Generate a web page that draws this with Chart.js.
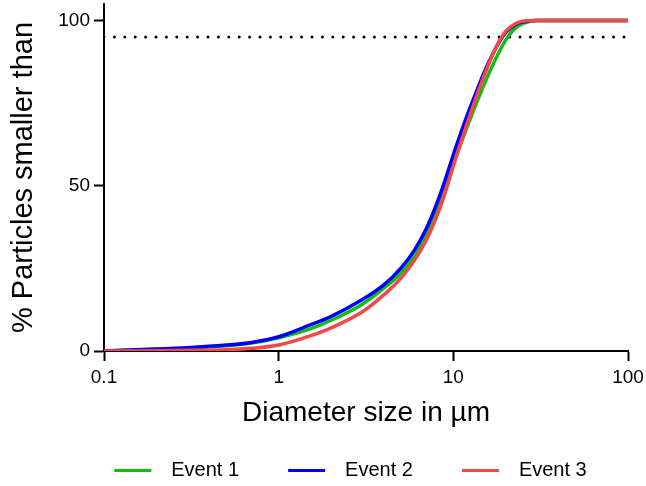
<!DOCTYPE html>
<html lang="en">
  <head>
    <meta charset="UTF-8" />
    <title>Particle size distribution</title>
    <script src="https://cdn.jsdelivr.net/npm/chart.js@4"></script>
    <style>
      html, body { margin: 0; padding: 0; background: #fff; }
      .chart-container { position: relative; width: 646px; height: 486px; }
    </style>
  </head>
  <body>
    <div class="chart-container">
      <canvas id="sizeChart"></canvas>
    </div>

    <script>
      // diameter (µm) and cumulative % for each event
      const sizes = [0.1, 0.2, 0.3, 0.5, 0.7, 1, 1.5, 2, 3, 4, 5, 6, 7, 8, 9, 10, 11, 12, 14, 16, 18, 20, 23, 26, 30, 40, 60, 100];
      const event1 = [0, 0.5, 0.9, 1.6, 2.4, 4.0, 6.6, 9.3, 14.1, 19, 23.5, 29, 35, 42, 49.3, 56.5, 62.5, 67.8, 76.8, 84, 89.8, 94.2, 98, 99.4, 100, 100, 100, 100];
      const event2 = [0, 0.6, 1.0, 1.8, 2.6, 4.3, 7.8, 10.5, 15.5, 20, 25, 30.6, 37, 44.3, 51.9, 59.4, 65.7, 71.3, 80.4, 87.5, 92.8, 96.4, 99, 99.7, 100, 100, 100, 100];
      const event3 = [0, 0.1, 0.2, 0.4, 0.8, 1.8, 4.5, 7.0, 11.8, 17, 22, 27.5, 33.5, 40.5, 48, 56, 62.8, 68.8, 79, 87, 93, 96.8, 99.2, 99.9, 100, 100, 100, 100];
      const seriesNames = ['Event 1', 'Event 2', 'Event 3'];
      const seriesColors = ['#10be10', '#0000ff', '#f44848'];
      const refLevel = 95;
      const xTicks = [0.1, 1, 10, 100];
      const yTicks = [0, 50, 100];

      const toPoints = (ys) => sizes.map((s, i) => ({ x: s, y: ys[i] }));

      // legend swatch: short line placed inside a wider transparent box
      const swatch = (color) => {
        const c = document.createElement('canvas');
        c.width = 92;
        c.height = 3;
        const g = c.getContext('2d');
        g.fillStyle = color;
        g.fillRect(45, 0, 37, 3);
        return c;
      };

      const lineSet = (name, ys, color, order) => ({
        label: name,
        data: toPoints(ys),
        borderColor: color,
        backgroundColor: color,
        borderWidth: 3.5,
        pointRadius: 0,
        pointStyle: swatch(color),
        cubicInterpolationMode: 'monotone',
        fill: false,
        order: order,
      });

      const legendShift = { id: 'legendShift', afterLayout(chart) {
        const lg = chart.legend;
        lg.left += 14; lg.right += 14;
        lg.top += 4; lg.bottom += 4;
      } };

      const tickFont = { family: 'Liberation Sans', size: 19 };

      new Chart(document.getElementById('sizeChart').getContext('2d'), {
        type: 'line',
        data: {
          datasets: [
            lineSet(seriesNames[0], event1, seriesColors[0], 3),
            lineSet(seriesNames[1], event2, seriesColors[1], 2),
            lineSet(seriesNames[2], event3, seriesColors[2], 1),
            {
              label: 'ref',
              data: [{ x: xTicks[0], y: refLevel }, { x: xTicks[xTicks.length - 1], y: refLevel }],
              borderColor: '#000',
              borderWidth: 3,
              borderDash: [0, 10.4],
              borderCapStyle: 'round',
              pointRadius: 0,
              order: 4,
            },
          ],
        },
        options: {
          responsive: true,
          maintainAspectRatio: false,
          animation: false,
          layout: { padding: { left: 0, right: 18, top: 4, bottom: 0 } },
          plugins: {
            tooltip: { enabled: false },
            legend: {
              position: 'bottom',
              labels: {
                usePointStyle: true,
                pointStyleWidth: 92,
                padding: 4,
                color: '#000',
                font: { family: 'Liberation Sans', size: 20 },
                filter: (item) => item.text !== 'ref',
                sort: (a, b) => a.datasetIndex - b.datasetIndex,
              },
            },
          },
          scales: {
            x: {
              type: 'logarithmic',
              min: 0.1,
              max: 100,
              afterBuildTicks: (s) => { s.ticks = xTicks.map((v) => ({ value: v })); },
              afterFit: (s) => { s.height = 101; s.paddingLeft = 0; s.paddingRight = 0; },
              ticks: { color: '#000', font: tickFont, padding: 5, maxRotation: 0, callback: (v) => String(v) },
              grid: { drawOnChartArea: false, drawTicks: true, tickLength: 10, tickWidth: 2, tickColor: '#000' },
              border: { display: true, color: '#000', width: 2 },
              title: { display: true, text: 'Diameter size in µm', color: '#000', font: { family: 'Liberation Sans', size: 28 }, padding: { top: 0, bottom: 22 } },
            },
            y: {
              min: 0,
              max: 105,
              afterBuildTicks: (s) => { s.ticks = yTicks.map((v) => ({ value: v })); },
              afterFit: (s) => { s.width = 104; s.paddingTop = 0; s.paddingBottom = 0; },
              ticks: { color: '#000', font: tickFont, padding: 4 },
              grid: { drawOnChartArea: false, drawTicks: true, tickLength: 10, tickWidth: 2, tickColor: '#000' },
              border: { display: true, color: '#000', width: 2 },
              title: { display: true, text: '% Particles smaller than', color: '#000', font: { family: 'Liberation Sans', size: 29 }, padding: { top: 7, bottom: 0 } },
            },
          },
        },
        plugins: [legendShift],
      });
    </script>
  </body>
</html>
